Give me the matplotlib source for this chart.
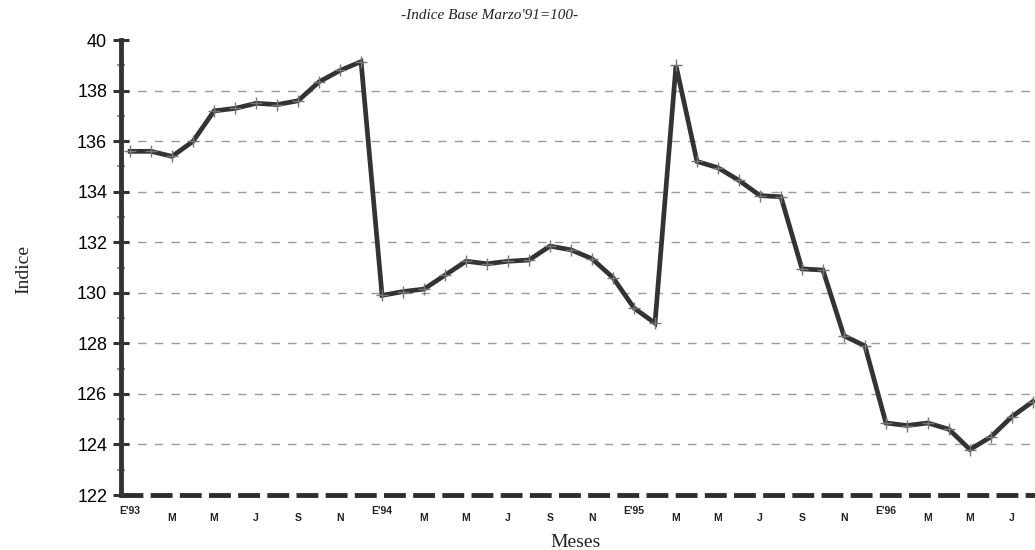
import matplotlib
matplotlib.use("Agg")
import matplotlib.pyplot as plt
import numpy as np

# Indice mensual, enero 1993 - agosto 1996
valores_1993 = [135.6, 135.6, 135.4, 136.0, 137.2, 137.3, 137.5, 137.45, 137.6, 138.35, 138.8, 139.15]
valores_1994 = [129.9, 130.05, 130.15, 130.7, 131.25, 131.15, 131.25, 131.3, 131.85, 131.7, 131.35, 130.6]
valores_1995 = [129.4, 128.8, 139.0, 135.2, 134.95, 134.45, 133.85, 133.8, 130.95, 130.9, 128.3, 127.9]
valores_1996 = [124.85, 124.75, 124.85, 124.6, 123.8, 124.3, 125.1, 125.7]

etiquetas_x = ["E'93", "M", "M", "J", "S", "N",
               "E'94", "M", "M", "J", "S", "N",
               "E'95", "M", "M", "J", "S", "N",
               "E'96", "M", "M", "J"]

titulo = "-Indice Base Marzo'91=100-"

indice = valores_1993 + valores_1994 + valores_1995 + valores_1996
meses = np.arange(len(indice))

fig = plt.figure(figsize=(10.35, 5.5), dpi=100)
ax = fig.add_axes([0.117, 0.10, 0.883, 0.827])

ax.set_xlim(-0.43, 43.1)
ax.set_ylim(122, 140)

# lineas guia horizontales
for y in range(124, 140, 2):
    ax.axhline(y, color="#9a9a9a", lw=1.0, dashes=(6, 6), zorder=1)

ax.plot(meses, indice, color="#333333", lw=3.4, zorder=3, solid_joinstyle="miter")
ax.plot(meses, indice, ls="none", marker="+", ms=9, mew=1.0, color="#777777", zorder=4)

# eje x como linea discontinua gruesa
ax.axhline(122, color="#2e2e2e", lw=3.5, dashes=(4.5, 1.5), clip_on=False, zorder=5)

for s in ["top", "right", "bottom"]:
    ax.spines[s].set_visible(False)
ax.spines["left"].set_linewidth(3.5)
ax.spines["left"].set_color("#333333")
ax.spines["left"].set_zorder(6)

ax.set_yticks(range(122, 141, 2))
ax.set_yticklabels([str(v) for v in range(122, 140, 2)] + ["40"])
ax.set_yticks(range(123, 140, 2), minor=True)
ax.tick_params(axis="y", which="major", direction="inout", length=12, width=2.2,
               color="#333333", labelsize=13, pad=4)
ax.tick_params(axis="y", which="minor", direction="inout", length=6, width=1.5,
               color="#999999")
for lab in ax.get_yticklabels():
    lab.set_family("Liberation Sans")

ax.set_xticks([])
tr = ax.get_xaxis_transform()
for i, lab in enumerate(etiquetas_x):
    dy = -0.025 if lab.startswith("E") else -0.04
    ax.text(i * 2, dy, lab, transform=tr, ha="center", va="top",
            fontsize=7.5, fontweight="bold", family="Liberation Sans", color="#222222")

ax.set_ylabel("Indice", family="Liberation Serif", fontsize=14, color="#222222")
ax.yaxis.set_label_coords(-0.097, 0.495)
ax.set_xlabel("Meses", family="Liberation Serif", fontsize=14, color="#222222")
ax.xaxis.set_label_coords(0.497, -0.085)

fig.text(0.473, 0.972, titulo, ha="center", va="center", fontsize=11,
         style="italic", family="Liberation Serif", color="#222222")

fig.savefig("out.png", dpi=100)
